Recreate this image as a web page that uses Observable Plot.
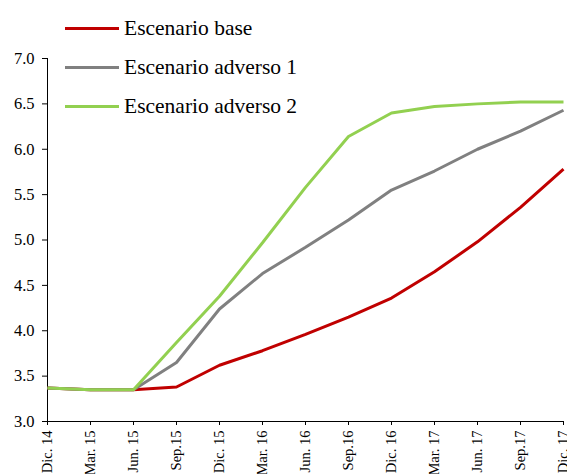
<!DOCTYPE html>
<html>
<head>
<meta charset="utf-8">
<script src="https://cdn.jsdelivr.net/npm/d3@7"></script>
<script src="https://cdn.jsdelivr.net/npm/@observablehq/plot@0.6"></script>
<style>
  html, body { margin: 0; padding: 0; background: #fff; }
  #wrap { position: relative; width: 567px; height: 474px; overflow: hidden; }
  #wrap svg text { fill: #000; }
  .legend { position: absolute; left: 65px; top: 9px; font-family: "Liberation Serif", "Times New Roman", serif; font-size: 21.5px; color: #000; }
  .legend .item { display: flex; align-items: center; height: 39px; }
  .legend .sw { width: 54px; height: 3px; margin-right: 5px; }
</style>
</head>
<body>
<div id="wrap"></div>
<script>
const periods = ["Dic. 14","Mar. 15","Jun. 15","Sep.15","Dic. 15","Mar. 16","Jun. 16","Sep.16","Dic. 16","Mar. 17","Jun. 17","Sep.17","Dic. 17"];
const seriesNames = ["Escenario base","Escenario adverso 1","Escenario adverso 2"];
const seriesColors = ["#C00000","#808080","#92D050"];
const base     = [3.37,3.35,3.35,3.38,3.62,3.78,3.96,4.15,4.36,4.65,4.98,5.36,5.78];
const adverso1 = [3.37,3.35,3.35,3.65,4.24,4.63,4.92,5.22,5.55,5.76,6.00,6.20,6.43];
const adverso2 = [3.37,3.35,3.35,3.87,4.38,4.97,5.58,6.14,6.40,6.47,6.50,6.52,6.52];
const yTicks = [3.0,3.5,4.0,4.5,5.0,5.5,6.0,6.5,7.0];

const seriesValues = [base, adverso1, adverso2];
const data = seriesValues.flatMap((vals, s) => vals.map((v, i) => ({period: periods[i], value: v, series: seriesNames[s]})));

const chart = Plot.plot({
  width: 567,
  height: 474,
  marginLeft: 47,
  marginRight: 4,
  marginTop: 58,
  marginBottom: 53,
  style: {fontFamily: "'Liberation Serif', 'Times New Roman', serif", fontSize: "15px", color: "#000", background: "#fff"},
  x: {type: "point", domain: periods, padding: 0, axis: null},
  y: {domain: [3, 7], axis: null},
  color: {domain: seriesNames, range: seriesColors},
  marks: [
    Plot.axisY({ticks: yTicks, tickFormat: d3.format(".1f"), tickSize: 5, tickPadding: 8, fontSize: 16.5, stroke: "#000", strokeOpacity: 1, label: null}),
    Plot.axisX({ticks: periods, tickSize: 4, tickPadding: 5, tickRotate: -90, fontSize: 14.5, stroke: "#000", strokeOpacity: 1, label: null}),
    Plot.ruleX([periods[0]], {stroke: "#000", strokeWidth: 1}),
    Plot.ruleY([3], {stroke: "#000", strokeWidth: 1}),
    Plot.line(data, {x: "period", y: "value", z: "series", stroke: "series", strokeWidth: 3, strokeLinejoin: "miter", strokeLinecap: "butt"})
  ]
});

const wrap = document.getElementById("wrap");
wrap.appendChild(chart);

const legend = document.createElement("div");
legend.className = "legend";
seriesNames.forEach((name, i) => {
  const item = document.createElement("div");
  item.className = "item";
  const sw = document.createElement("span");
  sw.className = "sw";
  sw.style.background = seriesColors[i];
  const lab = document.createElement("span");
  lab.textContent = name;
  item.appendChild(sw);
  item.appendChild(lab);
  legend.appendChild(item);
});
wrap.appendChild(legend);
</script>
</body>
</html>
